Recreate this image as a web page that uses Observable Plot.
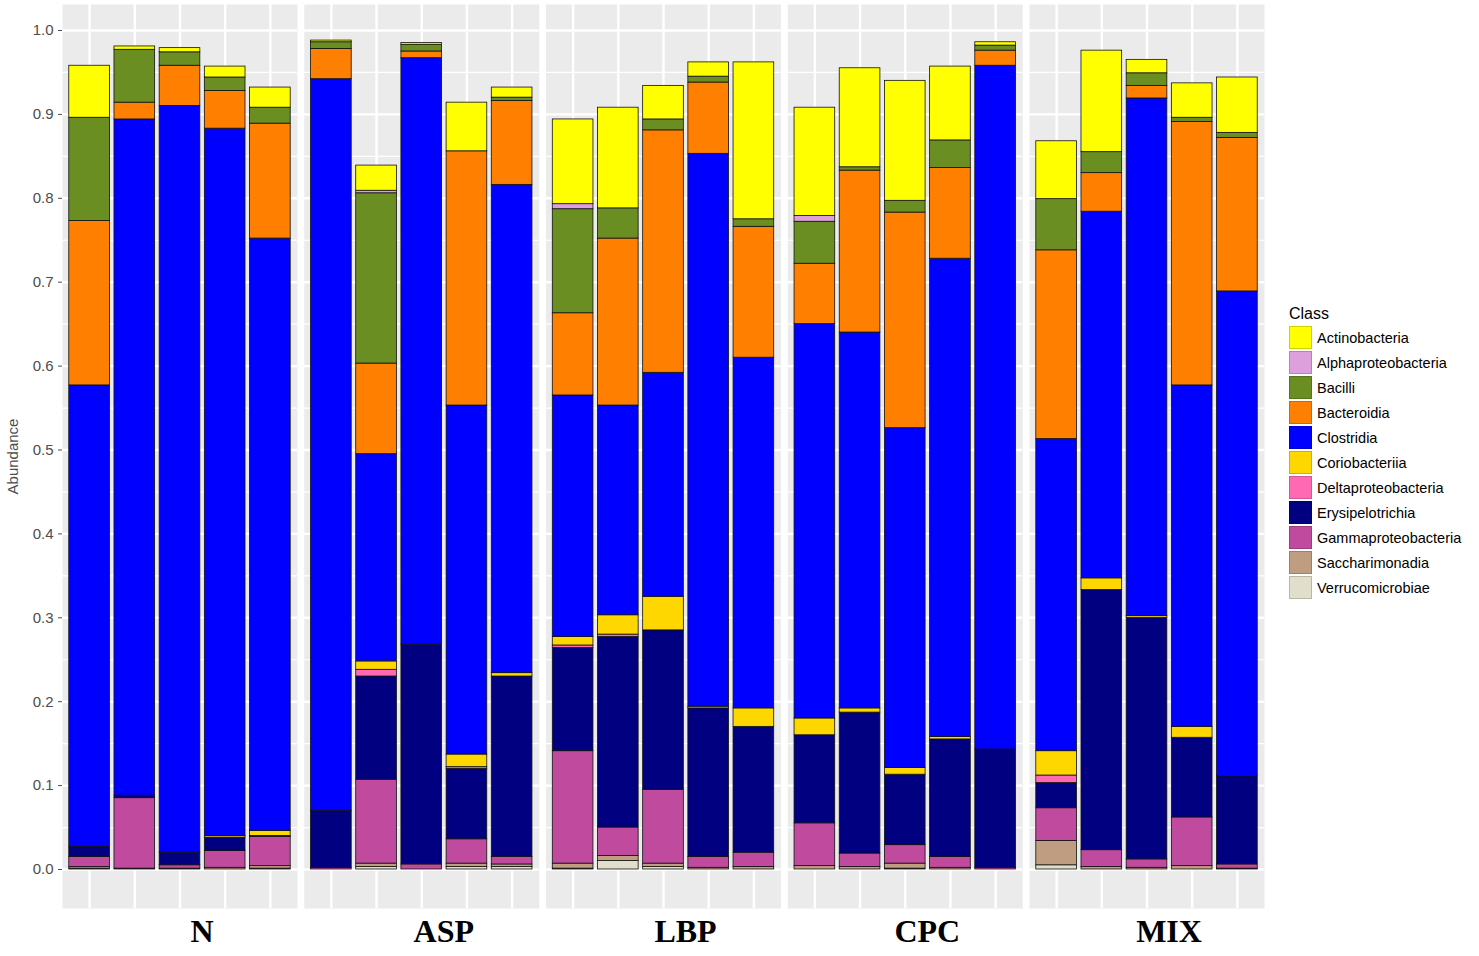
<!DOCTYPE html>
<html>
<head>
<meta charset="utf-8">
<script src="https://cdn.jsdelivr.net/npm/d3@7"></script>
<script src="https://cdn.jsdelivr.net/npm/@observablehq/plot@0.6"></script>
<style>
  html, body { margin: 0; padding: 0; background: #fff; }
  #wrap { position: relative; width: 1479px; height: 956px; font-family: "Liberation Sans", Arial, sans-serif; }
  #chart { position: absolute; left: 0; top: 0; }
  #legend { position: absolute; left: 1289px; top: 303px; }
  #legend .title { font-size: 16px; color: #000; height: 22px; line-height: 21px; }
  #legend .row { display: flex; align-items: center; height: 25px; }
  #legend .sw { width: 23px; height: 23px; box-sizing: border-box; border: 1px solid rgba(0,0,0,0.18); margin-right: 5px; }
  #legend .lab { font-size: 14.5px; color: #000; }
</style>
</head>
<body>
<div id="wrap">
  <div id="chart"></div>
  <div id="legend"></div>
</div>
<script>
// ---- categories ----
const groups = ["N", "ASP", "LBP", "CPC", "MIX"];
const sampleIdx = [1, 2, 3, 4, 5];
// legend order (top of stack first)
const classes = ["Actinobacteria", "Alphaproteobacteria", "Bacilli", "Bacteroidia", "Clostridia",
  "Coriobacteriia", "Deltaproteobacteria", "Erysipelotrichia", "Gammaproteobacteria",
  "Saccharimonadia", "Verrucomicrobiae"];
const classColors = ["#FFFF00", "#DDA0DD", "#6B8E23", "#FF7F00", "#0000FF",
  "#FFD700", "#FF69B4", "#000080", "#C04B9E", "#BF9D80", "#E1DECB"];
const yTicks = [0, 0.1, 0.2, 0.3, 0.4, 0.5, 0.6, 0.7, 0.8, 0.9, 1.0];
const yMinor = [0.05, 0.15, 0.25, 0.35, 0.45, 0.55, 0.65, 0.75, 0.85, 0.95];

// ---- series values: 25 bars (N1..N5, ASP1..ASP5, LBP1..LBP5, CPC1..CPC5, MIX1..MIX5) ----
const actinobacteria      = [.062,.004,.005,.013,.024, .002,.030,.002,.058,.012, .101,.120,.040,.017,.187, .129,.118,.143,.088,.004, .069,.121,.016,.041,.066];
const alphaproteobacteria = [0,0,0,0,0, 0,.003,0,0,0, .006,0,0,0,0, .007,0,0,0,0, 0,0,0,0,0];
const bacilli             = [.123,.063,.016,.016,.019, .008,.203,.008,0,.004, .124,.036,.013,.007,.009, .050,.004,.014,.033,.006, .061,.025,.015,.005,.006];
const bacteroidia         = [.196,.020,.048,.045,.137, .036,.108,.008,.303,.100, .098,.199,.289,.085,.156, .072,.193,.257,.108,.018, .225,.046,.015,.314,.183];
const clostridia          = [.550,.806,.890,.843,.706, .872,.247,.699,.416,.582, .288,.250,.267,.659,.418, .470,.448,.405,.570,.815, .372,.437,.617,.407,.578];
const coriobacteriia      = [0,0,0,.002,.006, 0,.010,0,.015,.004, .010,.023,.040,.002,.022, .020,.005,.008,.003,0, .029,.014,.002,.013,0];
const deltaproteobacteria = [0,0,0,0,0, 0,.008,0,.002,0, .003,.003,0,0,0, 0,0,0,0,0, .009,0,0,0,0];
const erysipelotrichia    = [.012,.003,.015,.016,.001, .068,.123,.262,.084,.215, .123,.227,.190,.177,.150, .105,.168,.084,.140,.141, .030,.310,.288,.095,.105];
const gammaproteobacteria = [.012,.084,.004,.020,.035, .002,.100,.006,.029,.009, .134,.034,.088,.013,.017, .051,.016,.022,.013,.002, .039,.020,.010,.058,.005];
const saccharimonadia     = [.002,.001,.001,.002,.003, 0,.004,0,.004,.003, .006,.006,.004,.002,.003, .004,.003,.006,.002,0, .029,.003,.002,.004,.001];
const verrucomicrobiae    = [.001,0,0,0,.001, 0,.003,0,.003,.003, .001,.010,.003,0,0, 0,0,.001,0,0, .005,0,0,0,0];

const seriesByClass = {
  "Actinobacteria": actinobacteria, "Alphaproteobacteria": alphaproteobacteria, "Bacilli": bacilli,
  "Bacteroidia": bacteroidia, "Clostridia": clostridia, "Coriobacteriia": coriobacteriia,
  "Deltaproteobacteria": deltaproteobacteria, "Erysipelotrichia": erysipelotrichia,
  "Gammaproteobacteria": gammaproteobacteria, "Saccharimonadia": saccharimonadia,
  "Verrucomicrobiae": verrucomicrobiae
};

// long table, stacked bottom -> top (reverse of legend order)
const stackOrder = classes.slice().reverse();
const data = [];
for (let i = 0; i < 25; i++) {
  for (const c of stackOrder) {
    const v = seriesByClass[c][i];
    if (v > 0) data.push({group: groups[Math.floor(i / 5)], idx: sampleIdx[i % 5], cls: c, value: v});
  }
}

const chart = Plot.plot({
  width: 1479,
  height: 956,
  marginLeft: 62,
  marginRight: 215,
  marginTop: 4,
  marginBottom: 48,
  style: {fontFamily: "'Liberation Sans', Arial, sans-serif", background: "white"},
  fx: {domain: groups, paddingInner: 0.028, paddingOuter: 0, round: false, label: null},
  x: {domain: sampleIdx, paddingInner: 0.1, paddingOuter: 0.15, round: false, axis: null},
  y: {domain: [-0.0465, 1.031], label: null},
  color: {domain: classes, range: classColors},
  marks: [
    Plot.frame({fill: "#EBEBEB", stroke: null}),
    Plot.ruleY(yMinor, {stroke: "white", strokeWidth: 1.2}),
    Plot.ruleY(yTicks, {stroke: "white", strokeWidth: 2.4}),
    Plot.gridX({stroke: "white", strokeOpacity: 1, strokeWidth: 2.4}),
    Plot.barY(data, {fx: "group", x: "idx", y: "value", fill: "cls", stroke: "#111", strokeWidth: 0.8, order: stackOrder}),
    Plot.axisY({ticks: yTicks, tickFormat: d3.format(".1f"), fontSize: 15, color: "#4D4D4D", tickSize: 4,
      label: "Abundance", labelAnchor: "center", labelArrow: "none", labelOffset: 55}),
    Plot.axisFx({anchor: "bottom", tickSize: 0, tickPadding: 11, fontSize: 32, fontWeight: "bold",
      fontFamily: "'Liberation Serif', 'Times New Roman', serif", dx: 22, label: null, color: "black"})
  ]
});
document.getElementById("chart").appendChild(chart);

// legend
const leg = document.getElementById("legend");
const t = document.createElement("div");
t.className = "title";
t.textContent = "Class";
leg.appendChild(t);
classes.forEach((c, i) => {
  const r = document.createElement("div");
  r.className = "row";
  const s = document.createElement("div");
  s.className = "sw";
  s.style.background = classColors[i];
  const l = document.createElement("span");
  l.className = "lab";
  l.textContent = c;
  r.appendChild(s);
  r.appendChild(l);
  leg.appendChild(r);
});
</script>
</body>
</html>
